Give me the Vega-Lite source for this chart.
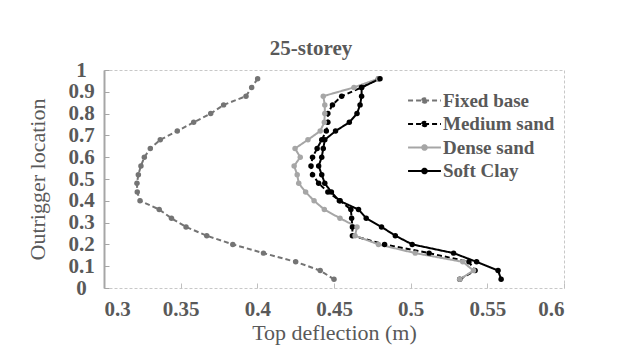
{
  "$schema": "https://vega.github.io/schema/vega-lite/v6.json",
  "width": 460,
  "height": 218,
  "autosize": {"type": "none"},
  "padding": {"left": 104, "top": 70, "right": 61, "bottom": 59},
  "background": "white",
  "config": {
    "view": {"stroke": "#c8c8c8", "strokeDash": [3, 2], "strokeWidth": 1},
    "font": "Liberation Serif",
    "legend": {
      "orient": "none",
      "legendX": 308,
      "legendY": 18,
      "title": null,
      "labelFont": "Liberation Serif",
      "labelFontSize": 19,
      "labelFontWeight": "bold",
      "labelColor": "#595959",
      "labelOffset": 6,
      "rowPadding": 0.5,
      "symbolType": "M-1.43,0L1.43,0M-0.2,0A0.2,0.2,0,1,1,0.2,0A0.2,0.2,0,1,1,-0.2,0",
      "symbolSize": 529
    }
  },
  "title": {
    "text": "25-storey",
    "font": "Liberation Serif",
    "fontSize": 21,
    "fontWeight": "bold",
    "color": "#595959",
    "anchor": "middle",
    "dx": -23,
    "offset": 0
  },
  "data": {
    "values": [
      {"s": "Fixed base", "y": 0.04, "x": 0.450},
      {"s": "Fixed base", "y": 0.08, "x": 0.441},
      {"s": "Fixed base", "y": 0.12, "x": 0.425},
      {"s": "Fixed base", "y": 0.16, "x": 0.404},
      {"s": "Fixed base", "y": 0.20, "x": 0.384},
      {"s": "Fixed base", "y": 0.24, "x": 0.367},
      {"s": "Fixed base", "y": 0.28, "x": 0.3535},
      {"s": "Fixed base", "y": 0.32, "x": 0.344},
      {"s": "Fixed base", "y": 0.36, "x": 0.336},
      {"s": "Fixed base", "y": 0.40, "x": 0.3235},
      {"s": "Fixed base", "y": 0.44, "x": 0.3217},
      {"s": "Fixed base", "y": 0.48, "x": 0.3215},
      {"s": "Fixed base", "y": 0.52, "x": 0.3224},
      {"s": "Fixed base", "y": 0.56, "x": 0.3241},
      {"s": "Fixed base", "y": 0.60, "x": 0.3263},
      {"s": "Fixed base", "y": 0.64, "x": 0.3302},
      {"s": "Fixed base", "y": 0.68, "x": 0.3367},
      {"s": "Fixed base", "y": 0.72, "x": 0.3478},
      {"s": "Fixed base", "y": 0.76, "x": 0.3585},
      {"s": "Fixed base", "y": 0.80, "x": 0.3696},
      {"s": "Fixed base", "y": 0.84, "x": 0.378},
      {"s": "Fixed base", "y": 0.88, "x": 0.3926},
      {"s": "Fixed base", "y": 0.92, "x": 0.3963},
      {"s": "Fixed base", "y": 0.96, "x": 0.4002},
      {"s": "Medium sand", "y": 0.04, "x": 0.532},
      {"s": "Medium sand", "y": 0.08, "x": 0.542},
      {"s": "Medium sand", "y": 0.12, "x": 0.538},
      {"s": "Medium sand", "y": 0.16, "x": 0.512},
      {"s": "Medium sand", "y": 0.20, "x": 0.483},
      {"s": "Medium sand", "y": 0.24, "x": 0.462},
      {"s": "Medium sand", "y": 0.28, "x": 0.462},
      {"s": "Medium sand", "y": 0.32, "x": 0.4615},
      {"s": "Medium sand", "y": 0.36, "x": 0.461},
      {"s": "Medium sand", "y": 0.40, "x": 0.454},
      {"s": "Medium sand", "y": 0.44, "x": 0.446},
      {"s": "Medium sand", "y": 0.48, "x": 0.440},
      {"s": "Medium sand", "y": 0.52, "x": 0.436},
      {"s": "Medium sand", "y": 0.56, "x": 0.435},
      {"s": "Medium sand", "y": 0.60, "x": 0.436},
      {"s": "Medium sand", "y": 0.64, "x": 0.439},
      {"s": "Medium sand", "y": 0.68, "x": 0.442},
      {"s": "Medium sand", "y": 0.72, "x": 0.445},
      {"s": "Medium sand", "y": 0.76, "x": 0.446},
      {"s": "Medium sand", "y": 0.80, "x": 0.446},
      {"s": "Medium sand", "y": 0.84, "x": 0.449},
      {"s": "Medium sand", "y": 0.88, "x": 0.455},
      {"s": "Medium sand", "y": 0.92, "x": 0.468},
      {"s": "Medium sand", "y": 0.96, "x": 0.479},
      {"s": "Dense sand", "y": 0.04, "x": 0.532},
      {"s": "Dense sand", "y": 0.08, "x": 0.541},
      {"s": "Dense sand", "y": 0.12, "x": 0.534},
      {"s": "Dense sand", "y": 0.16, "x": 0.503},
      {"s": "Dense sand", "y": 0.20, "x": 0.479},
      {"s": "Dense sand", "y": 0.24, "x": 0.4637},
      {"s": "Dense sand", "y": 0.28, "x": 0.465},
      {"s": "Dense sand", "y": 0.32, "x": 0.4539},
      {"s": "Dense sand", "y": 0.36, "x": 0.4437},
      {"s": "Dense sand", "y": 0.40, "x": 0.437},
      {"s": "Dense sand", "y": 0.44, "x": 0.4315},
      {"s": "Dense sand", "y": 0.48, "x": 0.427},
      {"s": "Dense sand", "y": 0.52, "x": 0.426},
      {"s": "Dense sand", "y": 0.56, "x": 0.424},
      {"s": "Dense sand", "y": 0.60, "x": 0.428},
      {"s": "Dense sand", "y": 0.64, "x": 0.4246},
      {"s": "Dense sand", "y": 0.68, "x": 0.433},
      {"s": "Dense sand", "y": 0.72, "x": 0.441},
      {"s": "Dense sand", "y": 0.76, "x": 0.4437},
      {"s": "Dense sand", "y": 0.80, "x": 0.444},
      {"s": "Dense sand", "y": 0.84, "x": 0.444},
      {"s": "Dense sand", "y": 0.88, "x": 0.443},
      {"s": "Dense sand", "y": 0.92, "x": 0.463},
      {"s": "Dense sand", "y": 0.96, "x": 0.479},
      {"s": "Soft Clay", "y": 0.04, "x": 0.559},
      {"s": "Soft Clay", "y": 0.08, "x": 0.557},
      {"s": "Soft Clay", "y": 0.12, "x": 0.543},
      {"s": "Soft Clay", "y": 0.16, "x": 0.528},
      {"s": "Soft Clay", "y": 0.20, "x": 0.501},
      {"s": "Soft Clay", "y": 0.24, "x": 0.490},
      {"s": "Soft Clay", "y": 0.28, "x": 0.481},
      {"s": "Soft Clay", "y": 0.32, "x": 0.471},
      {"s": "Soft Clay", "y": 0.36, "x": 0.466},
      {"s": "Soft Clay", "y": 0.40, "x": 0.4535},
      {"s": "Soft Clay", "y": 0.44, "x": 0.4483},
      {"s": "Soft Clay", "y": 0.48, "x": 0.444},
      {"s": "Soft Clay", "y": 0.52, "x": 0.442},
      {"s": "Soft Clay", "y": 0.56, "x": 0.440},
      {"s": "Soft Clay", "y": 0.60, "x": 0.442},
      {"s": "Soft Clay", "y": 0.64, "x": 0.443},
      {"s": "Soft Clay", "y": 0.68, "x": 0.444},
      {"s": "Soft Clay", "y": 0.72, "x": 0.451},
      {"s": "Soft Clay", "y": 0.76, "x": 0.460},
      {"s": "Soft Clay", "y": 0.80, "x": 0.465},
      {"s": "Soft Clay", "y": 0.84, "x": 0.467},
      {"s": "Soft Clay", "y": 0.88, "x": 0.468},
      {"s": "Soft Clay", "y": 0.92, "x": 0.468},
      {"s": "Soft Clay", "y": 0.96, "x": 0.480}
    ]
  },
  "mark": {"type": "line", "point": {"filled": true, "size": 30}},
  "encoding": {
    "x": {
      "field": "x",
      "type": "quantitative",
      "scale": {"domain": [0.3, 0.6], "nice": false, "zero": false},
      "axis": {
        "values": [0.3, 0.35, 0.4, 0.45, 0.5, 0.55, 0.6],
        "format": ".2~f",
        "grid": false,
        "domain": false,
        "tickColor": "#bfbfbf",
        "tickSize": -5,
        "labelPadding": 15,
        "labelFont": "Liberation Serif",
        "labelFontSize": 21,
        "labelFontWeight": "bold",
        "labelColor": "#595959",
        "title": "Top deflection (m)",
        "titleFont": "Liberation Serif",
        "titleFontSize": 22,
        "titleFontWeight": "normal",
        "titleColor": "#595959",
        "titlePadding": 3
      }
    },
    "y": {
      "field": "y",
      "type": "quantitative",
      "scale": {"domain": [0, 1], "nice": false},
      "axis": {
        "values": [0, 0.1, 0.2, 0.3, 0.4, 0.5, 0.6, 0.7, 0.8, 0.9, 1],
        "format": ".1~f",
        "grid": false,
        "domainColor": "#a6a6a6",
        "domainWidth": 2,
        "tickColor": "#a6a6a6",
        "tickSize": -5,
        "labelAlign": "center",
        "labelPadding": 28,
        "labelFont": "Liberation Serif",
        "labelFontSize": 21,
        "labelFontWeight": "bold",
        "labelColor": "#595959",
        "title": "Outrigger location",
        "titleFont": "Liberation Serif",
        "titleFontSize": 22,
        "titleFontWeight": "normal",
        "titleColor": "#595959",
        "titlePadding": 18
      }
    },
    "order": {"field": "y", "type": "quantitative"},
    "color": {
      "field": "s",
      "type": "nominal",
      "scale": {
        "domain": ["Fixed base", "Medium sand", "Dense sand", "Soft Clay"],
        "range": ["#747474", "#000000", "#a6a6a6", "#000000"]
      }
    },
    "strokeDash": {
      "field": "s",
      "type": "nominal",
      "scale": {
        "domain": ["Fixed base", "Medium sand", "Dense sand", "Soft Clay"],
        "range": [[5, 3], [5, 3], [1, 0], [1, 0]]
      }
    },
    "strokeWidth": {
      "field": "s",
      "type": "nominal",
      "scale": {
        "domain": ["Fixed base", "Medium sand", "Dense sand", "Soft Clay"],
        "range": [2, 2, 2, 3]
      }
    }
  }
}
